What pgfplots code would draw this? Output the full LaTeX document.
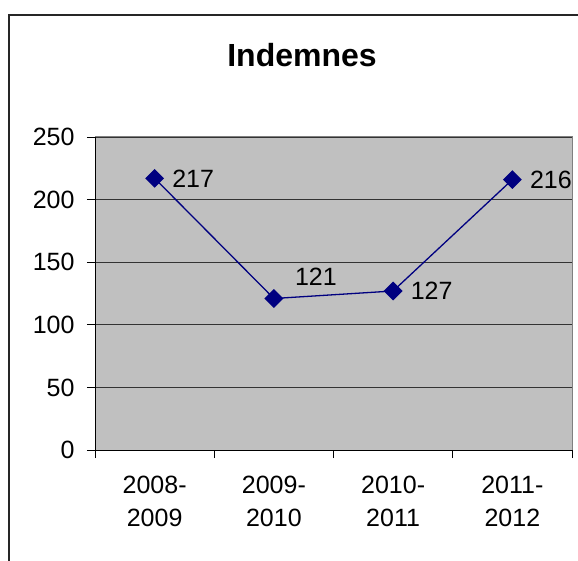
\documentclass[border=0pt]{standalone}
\usepackage{fontspec}
\setmainfont{Liberation Sans}
\usepackage{pgfplots}
\pgfplotsset{compat=1.18}
\definecolor{plotgray}{HTML}{C0C0C0}
\definecolor{navyline}{HTML}{000080}
\begin{document}
\begin{tikzpicture}[x=1pt,y=1pt]
\useasboundingbox (0,0) rectangle (578,560);
\draw[line width=1.2pt, black!85] (9,-10) -- (9,545) -- (590,545);
\node[font=\fontsize{32}{38}\selectfont\bfseries] at (302,505) {Indemnes};
\begin{axis}[
    at={(95pt,110pt)}, anchor=south west,
    width=477pt, height=313pt, scale only axis,
    xmin=-0.5, xmax=3.5, ymin=0, ymax=250,
    xtick={-0.5,0.5,1.5,2.5,3.5}, xticklabels={},
    extra x ticks={0,1,2,3},
    extra x tick labels={{2008-\\2009},{2009-\\2010},{2010-\\2011},{2011-\\2012}},
    extra x tick style={major tick length=0pt, grid=none,
        xticklabel style={align=center, inner sep=0pt, yshift=-26pt}},
    ytick={0,50,...,250},
    yticklabel style={xshift=-9pt},
    tick align=outside, major tick length=8pt,
    tick style={black, line width=0.8pt},
    ymajorgrids, major grid style={black!80, line width=0.8pt},
    axis x line*=bottom, axis y line*=left,
    axis line style={-, black, line width=1pt},
    axis background/.style={fill=plotgray, draw=gray, line width=1pt},
    ticklabel style={font=\fontsize{25}{33}\selectfont},
    /pgf/number format/assume math mode=true,
    clip=false,
]
\addplot[navyline, line width=1.3pt, mark=square*, mark size=6pt,
    mark options={rotate=45, fill=navyline, draw=navyline},
    nodes near coords, point meta=explicit symbolic,
    every node near coord/.append style={anchor=west, inner sep=0pt,
        xshift=17pt, text=black, font=\fontsize{25}{30}\selectfont}]
    coordinates {(0,217) [217] (1,121) [] (2,127) [127] (3,216) [216]};
\addplot[draw=none, no marks,
    nodes near coords, point meta=explicit symbolic,
    every node near coord/.append style={anchor=south west, inner sep=0pt,
        xshift=21pt, yshift=13pt, text=black, font=\fontsize{25}{30}\selectfont}]
    coordinates {(1,121) [121]};
\end{axis}
\end{tikzpicture}
\end{document}
